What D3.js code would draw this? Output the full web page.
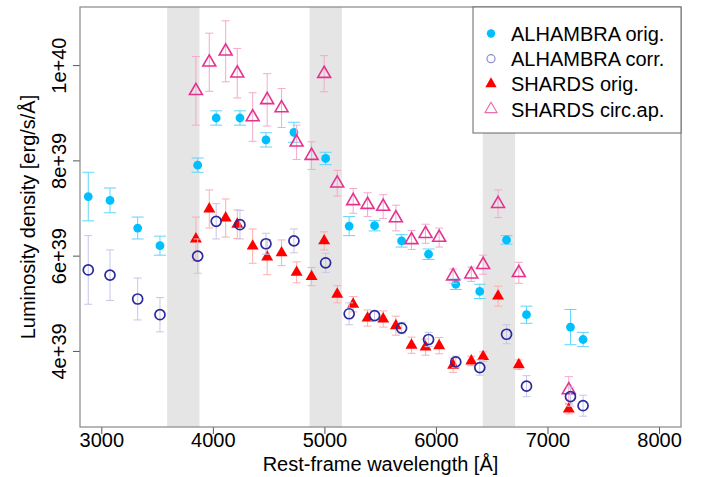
<!DOCTYPE html>
<html>
<head>
<meta charset="utf-8">
<script src="https://cdn.jsdelivr.net/npm/d3@7"></script>
<style>
  body { margin: 0; background: #fff; }
  text { font-family: "Liberation Sans", Arial, sans-serif; fill: #000; }
</style>
</head>
<body>
<svg id="svg" width="708" height="477"></svg>
<script>
// luminosity density values in units of 1e39 erg/s/A
var alhLam = [2883, 3078, 3326, 3526, 3864, 4030, 4243, 4476, 4727, 5011, 5222, 5450, 5692, 5934, 6178, 6393, 6633, 6812, 7206, 7319];
var alhOrig = [7.24, 7.16, 6.58, 6.21, 7.90, 8.89, 8.89, 8.43, 8.59, 8.04, 6.62, 6.63, 6.31, 6.03, 5.40, 5.25, 6.33, 4.76, 4.50, 4.24];
var alhOrigErr = [0.51, 0.26, 0.23, 0.20, 0.15, 0.15, 0.15, 0.15, 0.21, 0.13, 0.20, 0.11, 0.13, 0.11, 0.11, 0.15, 0.09, 0.18, 0.37, 0.15];
var alhCorr = [5.70, 5.59, 5.09, 4.76, 5.99, 6.72, 6.65, 6.25, 6.31, 5.85, 4.78, 4.74, 4.48, 4.24, 3.77, 3.65, 4.35, 3.26, 3.04, 2.85];
var alhCorrErr = [0.72, 0.53, 0.44, 0.36, 0.36, 0.37, 0.30, 0.22, 0.25, 0.20, 0.23, 0.10, 0.12, 0.15, 0.12, 0.16, 0.20, 0.22, 0.20, 0.22];

var shLam = [3848, 3968, 4115, 4219, 4357, 4487, 4616, 4751, 4885, 4998, 5115, 5258, 5387, 5527, 5641, 5781, 5907, 6029, 6154, 6317, 6423, 6557, 6743, 7191];
var shOrig = [6.35, 6.98, 6.79, 6.66, 6.20, 5.97, 6.06, 5.65, 5.56, 6.31, 5.19, 4.98, 4.69, 4.67, 4.53, 4.12, 4.08, 4.11, 3.70, 3.79, 3.88, 5.15, 3.71, 2.78];
var shOrigErr = [0.46, 0.40, 0.40, 0.30, 0.36, 0.37, 0.27, 0.22, 0.19, 0.19, 0.18, 0.16, 0.17, 0.17, 0.20, 0.17, 0.17, 0.17, 0.15, 0.10, 0.10, 0.21, 0.10, 0.10];
var shCirc = [9.46, 10.06, 10.29, 9.83, 8.91, 9.27, 9.10, 8.38, 8.10, 9.82, 7.52, 7.15, 7.07, 7.03, 6.79, 6.33, 6.46, 6.38, 5.57, 5.61, 5.81, 7.09, 5.64, 3.18];
var shCircErr = [0.72, 0.61, 0.64, 0.52, 0.51, 0.55, 0.41, 0.36, 0.29, 0.38, 0.27, 0.26, 0.25, 0.25, 0.27, 0.20, 0.20, 0.20, 0.15, 0.15, 0.20, 0.29, 0.22, 0.28];

// shaded wavelength ranges
var bands = [[3590, 3880], [4867, 5157], [6420, 6710]];

var xTicks = [3000, 4000, 5000, 6000, 7000, 8000];
var yTicks = [4, 6, 8, 10];
var yTickLabels = ["4e+39", "6e+39", "8e+39", "1e+40"];
var legendLabels = ["ALHAMBRA orig.", "ALHAMBRA corr.", "SHARDS orig.", "SHARDS circ.ap."];

var margin = {left: 80, right: 27, top: 7, bottom: 50};
var width = 708 - margin.left - margin.right;
var height = 477 - margin.top - margin.bottom;

var svg = d3.select("#svg");
var container = svg.append("g").attr("transform", `translate(${margin.left}, ${margin.top})`);

var xScale = d3.scaleLinear().domain([2809, 8197]).range([0, width]);
var yScale = d3.scaleLinear().domain([2.403, 11.22]).range([height, 0]);

container.selectAll(".band")
    .data(bands)
    .enter()
    .append("rect")
    .attr("x", d => xScale(d[0]))
    .attr("y", 0)
    .attr("width", d => xScale(d[1]) - xScale(d[0]))
    .attr("height", height)
    .style("fill", "#e5e5e5");

// series: points + error bars
var series = [
    {lam: alhLam, val: alhOrig, err: alhOrigErr, shape: "circle", fill: "#00bfff", stroke: "none", errColor: "#5fd5fb", cap: 6, size: 4.4},
    {lam: shLam, val: shCirc, err: shCircErr, shape: "tri", fill: "none", stroke: "#e3338f", errColor: "#f5a9cb", cap: 4, size: 72},
    {lam: shLam, val: shOrig, err: shOrigErr, shape: "tri", fill: "#ff0000", stroke: "none", errColor: "#ffadad", cap: 4, size: 62},
    {lam: alhLam, val: alhCorr, err: alhCorrErr, shape: "circle", fill: "none", stroke: "#2a2a9c", errColor: "#c6c6e6", cap: 4, size: 5}
];

series.forEach(s => {
    var pts = s.lam.map((l, i) => ({x: l, y: s.val[i], e: s.err[i]}));
    var g = container.append("g");
    var eb = g.selectAll(".err").data(pts).enter().append("g")
        .style("stroke", s.errColor).style("stroke-width", 1);
    eb.append("line")
        .attr("x1", d => xScale(d.x)).attr("x2", d => xScale(d.x))
        .attr("y1", d => yScale(d.y - d.e)).attr("y2", d => yScale(d.y + d.e));
    eb.append("line")
        .attr("x1", d => xScale(d.x) - s.cap).attr("x2", d => xScale(d.x) + s.cap)
        .attr("y1", d => yScale(d.y + d.e)).attr("y2", d => yScale(d.y + d.e));
    eb.append("line")
        .attr("x1", d => xScale(d.x) - s.cap).attr("x2", d => xScale(d.x) + s.cap)
        .attr("y1", d => yScale(d.y - d.e)).attr("y2", d => yScale(d.y - d.e));

    if (s.shape == "circle") {
        g.selectAll(".pt").data(pts).enter().append("circle")
            .attr("cx", d => xScale(d.x)).attr("cy", d => yScale(d.y))
            .attr("r", s.size)
            .style("fill", s.fill).style("stroke", s.stroke).style("stroke-width", 1.7);
    } else {
        g.selectAll(".pt").data(pts).enter().append("path")
            .attr("d", d3.symbol().type(d3.symbolTriangle).size(s.size))
            .attr("transform", d => `translate(${xScale(d.x)}, ${yScale(d.y)})`)
            .style("fill", s.fill).style("stroke", s.stroke).style("stroke-width", 1.6);
    }
});

// axes
var xAxis = container.append("g").attr("transform", `translate(0, ${height})`)
    .call(d3.axisBottom(xScale).tickValues(xTicks).tickSize(7).tickFormat(d3.format("d")));
var yAxis = container.append("g")
    .call(d3.axisLeft(yScale).tickValues(yTicks).tickSize(7).tickFormat((d, i) => yTickLabels[i]));
[xAxis, yAxis].forEach(a => {
    a.select(".domain").remove();
    a.selectAll("line").style("stroke", "#555");
    a.selectAll("text").style("font-size", "20px").style("font-family", "Liberation Sans, Arial, sans-serif").style("fill", "#000");
});
xAxis.selectAll("text").attr("dy", 0).attr("y", 20);
yAxis.selectAll("text")
    .attr("text-anchor", "middle")
    .attr("x", 0).attr("y", 0).attr("dy", 0)
    .attr("transform", "translate(-14, 0) rotate(-90)");

container.append("rect")
    .attr("width", width).attr("height", height)
    .style("fill", "none").style("stroke", "#888").style("stroke-width", 1.2);

svg.append("text")
    .attr("x", margin.left + width / 2).attr("y", 471)
    .attr("text-anchor", "middle")
    .style("font-size", "20px")
    .text("Rest-frame wavelength [Å]");
svg.append("text")
    .attr("transform", `translate(35, ${margin.top + height / 2}) rotate(-90)`)
    .attr("text-anchor", "middle")
    .style("font-size", "20px")
    .text("Luminosity density [erg/s/Å]");

// legend
var legend = svg.append("g");
legend.append("rect")
    .attr("x", 473).attr("y", margin.top).attr("width", margin.left + width - 473).attr("height", 126)
    .style("fill", "#fff").style("stroke", "#666").style("stroke-width", 1);
legendLabels.forEach((lab, i) => {
    var cy = 33.5 + 25.2 * i;
    var s = [series[0], series[3], series[2], series[1]][i];
    if (s.shape == "circle") {
        legend.append("circle").attr("cx", 491).attr("cy", cy).attr("r", s.fill == "none" ? 4 : 4.2)
            .style("fill", s.fill).style("stroke", s.stroke == "none" ? "none" : "#8c8cc8").style("stroke-width", 1.2);
    } else {
        legend.append("path")
            .attr("d", d3.symbol().type(d3.symbolTriangle).size(s.fill == "none" ? 62 : 56))
            .attr("transform", `translate(491, ${cy})`)
            .style("fill", s.fill).style("stroke", s.stroke == "none" ? "none" : "#ea6fb0").style("stroke-width", 1.2);
    }
    legend.append("text").attr("x", 511).attr("y", cy + 7.5)
        .style("font-size", "20px").text(lab);
});
</script>
</body>
</html>
